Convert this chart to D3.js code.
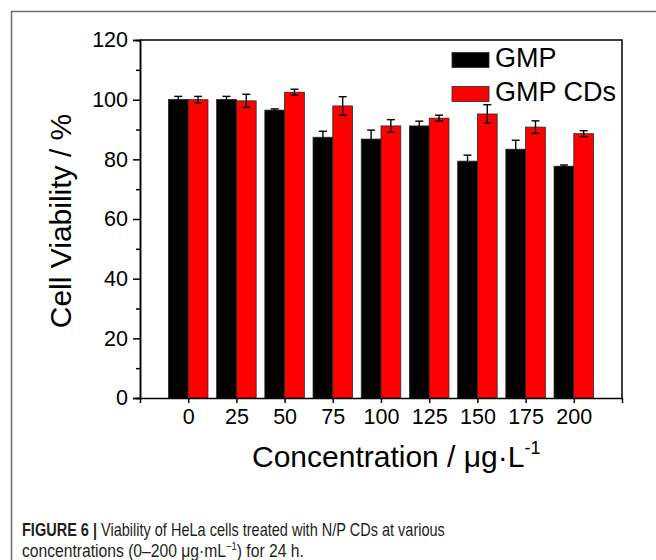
<!DOCTYPE html>
<html>
<head>
<meta charset="utf-8">
<script src="https://cdn.jsdelivr.net/npm/d3@7"></script>
<style>
  body { margin: 0; background: #fff; }
  svg { display: block; }
</style>
</head>
<body>
<div id="chart"></div>
<script>
// concentrations (ug/L) and cell viability (%)
var concentrations = ["0", "25", "50", "75", "100", "125", "150", "175", "200"]
var gmp     = [100.1, 100.1, 96.5, 87.4, 86.8, 91.2, 79.4, 83.4, 77.7]
var gmpErr  = [1.0, 1.0, 0.4, 2.0, 3.0, 1.6, 2.0, 3.0, 0.4]
var gmpCds  = [100.0, 99.6, 102.5, 97.9, 91.2, 93.8, 95.2, 90.8, 88.6]
var cdsErr  = [1.1, 2.2, 1.0, 3.1, 2.1, 1.0, 3.1, 2.1, 1.0]
var seriesNames = ["GMP", "GMP CDs"]
var seriesColors = ["#000000", "#ff0000"]
var yMajor = [0, 20, 40, 60, 80, 100, 120]
var yMinor = [10, 30, 50, 70, 90, 110]

var W = 656, H = 560
var margin = { top: 40, left: 140, right: 34, bottom: 162 }
var font = "Arial, 'Liberation Sans', Helvetica, sans-serif"

var svg = d3.select("#chart").append("svg")
  .attr("width", W)
  .attr("height", H)

// outer figure frame (top + left only)
svg.append("path")
  .attr("d", "M11.5," + H + " L11.5,11.5 L" + W + ",11.5")
  .attr("fill", "none")
  .attr("stroke", "#6e6e6e")
  .attr("stroke-width", 1.5)

var x = d3.scalePoint()
  .domain(concentrations)
  .range([margin.left, W - margin.right])
  .padding(1)

var y = d3.scaleLinear()
  .domain([0, 120])
  .range([H - margin.bottom, margin.top])

var step = x.step()
var bw = step * 0.41

var rows = concentrations.map(function (c, i) {
  return [
    { c: c, v: gmp[i], e: gmpErr[i], s: 0 },
    { c: c, v: gmpCds[i], e: cdsErr[i], s: 1 }
  ]
})
var flat = [].concat.apply([], rows)

// bars
svg.append("g")
  .selectAll("rect")
  .data(flat)
  .enter()
  .append("rect")
  .attr("x", function (d) { return d.s == 0 ? x(d.c) - bw : x(d.c) })
  .attr("y", function (d) { return y(d.v) })
  .attr("width", bw)
  .attr("height", function (d) { return y(0) - y(d.v) })
  .attr("fill", function (d) { return seriesColors[d.s] })
  .attr("stroke", "#2a2a2a")
  .attr("stroke-width", 0.8)

// error bars
var eb = svg.append("g")
  .selectAll("g")
  .data(flat)
  .enter()
  .append("g")
  .attr("stroke", "#000")
  .attr("stroke-width", 1.4)

var cx = function (d) { return (d.s == 0 ? x(d.c) - bw / 2 : x(d.c) + bw / 2) }
eb.append("line")
  .attr("x1", cx).attr("x2", cx)
  .attr("y1", function (d) { return y(d.v - d.e) })
  .attr("y2", function (d) { return y(d.v + d.e) })
eb.append("line")
  .attr("x1", function (d) { return cx(d) - 4 }).attr("x2", function (d) { return cx(d) + 4 })
  .attr("y1", function (d) { return y(d.v + d.e) })
  .attr("y2", function (d) { return y(d.v + d.e) })
eb.append("line")
  .attr("x1", function (d) { return cx(d) - 4 }).attr("x2", function (d) { return cx(d) + 4 })
  .attr("y1", function (d) { return y(d.v - d.e) })
  .attr("y2", function (d) { return y(d.v - d.e) })

// axes
svg.append("g")
  .attr("transform", "translate(" + margin.left + ",0)")
  .call(d3.axisLeft(y).tickValues(yMajor).tickSize(7).tickPadding(5))
svg.append("g")
  .attr("transform", "translate(" + margin.left + ",0)")
  .call(d3.axisLeft(y).tickValues(yMinor).tickSize(4).tickFormat(""))

svg.append("g")
  .attr("transform", "translate(0," + y(0) + ")")
  .call(d3.axisBottom(x).tickSize(5).tickPadding(6).tickSizeOuter(5))

svg.selectAll(".domain, .tick line")
  .attr("stroke", "#000")
  .attr("stroke-width", 1.5)
svg.selectAll(".tick text")
  .attr("fill", "#000")
  .style("font-family", font)
  .style("font-size", "21.5px")

// top and right frame of the plot
svg.append("path")
  .attr("d", "M" + margin.left + "," + margin.top + " L" + (W - margin.right) + "," + margin.top +
    " L" + (W - margin.right) + "," + y(0))
  .attr("fill", "none")
  .attr("stroke", "#000")
  .attr("stroke-width", 1.5)

// axis titles
svg.append("text")
  .attr("transform", "translate(71," + ((y(0) + y(120)) / 2 + 2) + ") rotate(-90)")
  .attr("text-anchor", "middle")
  .style("font-family", font)
  .style("font-size", "30px")
  .text("Cell Viability / %")

var xt = svg.append("text")
  .attr("x", 252)
  .attr("y", 467)
  .style("font-family", font)
  .style("font-size", "30px")
xt.append("tspan").text("Concentration / \u03bcg\u00b7L")
xt.append("tspan").attr("dy", -13).style("font-size", "18px").text("-1")

// legend
var leg = svg.append("g")
  .selectAll("g")
  .data(seriesNames)
  .enter()
  .append("g")
  .attr("transform", function (d, i) { return "translate(452," + (52.5 + i * 34) + ")" })
leg.append("rect")
  .attr("width", 37)
  .attr("height", 15)
  .attr("fill", function (d, i) { return seriesColors[i] })
  .attr("stroke", "#2a2a2a")
  .attr("stroke-width", 0.8)
leg.append("text")
  .attr("x", 43)
  .attr("y", 14)
  .style("font-family", font)
  .style("font-size", "27px")
  .text(function (d) { return d })

// caption
var capFont = "'Liberation Sans Narrow', 'Liberation Sans', Arial, sans-serif"
function captionLine(yPos, targetW, parts) {
  var t = svg.append("text")
    .attr("x", 0)
    .attr("y", 0)
    .attr("fill", "#231f20")
    .style("font-family", capFont)
    .style("font-size", "18px")
  parts.forEach(function (p) {
    var s = t.append("tspan").text(p.t)
    if (p.b) s.style("font-weight", "bold")
    if (p.sup) s.attr("dy", -7).style("font-size", "11px")
    if (p.down) s.attr("dy", 7)
  })
  var w = t.node().getComputedTextLength()
  t.attr("transform", "translate(22," + yPos + ") scale(" + (targetW / w) + ",1)")
}
captionLine(536, 423, [
  { t: "FIGURE 6 |", b: true },
  { t: " Viability of HeLa cells treated with N/P CDs at various" }
])
captionLine(557, 282, [
  { t: "concentrations (0\u2013200 " },
  { t: "\u03bcg\u00b7mL" },
  { t: "\u22121", sup: true },
  { t: ") for 24 h.", down: true }
])
</script>
</body>
</html>
